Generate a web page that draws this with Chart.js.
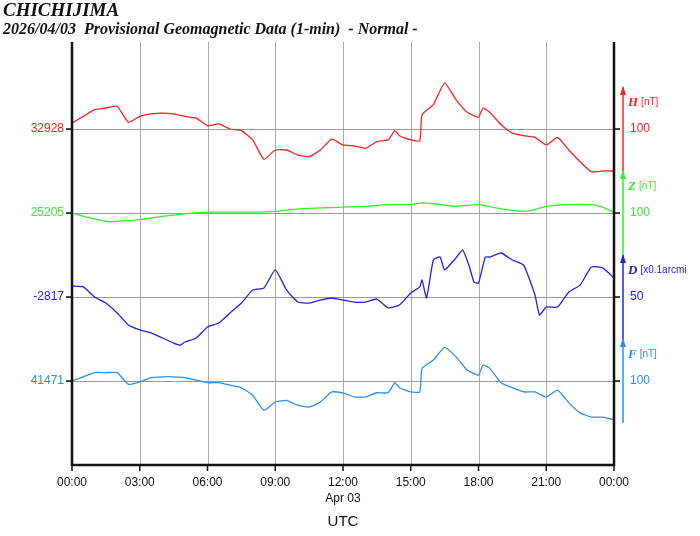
<!DOCTYPE html>
<html><head><meta charset="utf-8">
<script src="https://cdn.jsdelivr.net/npm/chart.js@4"></script>
<style>html,body{margin:0;padding:0;background:#fff}#c{display:block}</style>
</head><body>
<div style="width:700px;height:536px"><canvas id="c" width="700" height="536"></canvas></div>
<script>
// ---- data (deviations from baselines) ----
const hfTimes = [0,0.5,1,1.5,2,2.5,3,3.5,4,4.5,5,5.5,6,6.5,7,7.5,8,8.5,9,9.5,10,10.5,11,11.5,12,12.5,13,13.5,14,14.3,14.5,15,15.4,15.5,16,16.5,17,17.5,18,18.2,18.5,19,19.5,20,20.5,21,21.5,22,22.5,23,23.5,24];
const hValues = [7,15,23,25,27,8,15,18,19,18,15,13,4,6,0,-2,-13,-36,-25,-25,-31,-33,-25,-12,-19,-20,-23,-15,-13,-2,-8,-13,-14,17,29,55,35,20,14,25,20,5,-5,-8,-10,-19,-10,-25,-39,-51,-50,-50];
const fValues = [0,5,10,10,10,-4,-1,4,5,5,4,1,-2,-2,-5,-8,-17,-35,-25,-23,-29,-31,-25,-13,-14,-19,-19,-14,-14,-2,-8,-13,-13,15,25,40,29,13,7,19,15,-2,-8,-13,-13,-19,-11,-26,-38,-43,-43,-46];
const zTimes = [0,0.5,1,1.5,2,3,4,5,6,7,8,9,10,11,12,13,14,15,15.5,16,17,18,19,20,20.5,21,22,23,23.5,24];
const zValues = [0,-4,-7,-10,-10,-8,-4,-1,1,1,1,2,5,6,7,8,10,10,12,11,8,10,5,2,4,8,10,10,7,1];
const dTimes = [0,0.5,1,1.5,2,2.5,3,3.5,4,4.5,4.8,5,5.5,6,6.5,7,7.5,8,8.5,9,9.5,10,10.5,11,11.5,12,12.5,13,13.5,14,14.5,15,15.4,15.5,15.7,16,16.3,16.5,17,17.3,17.6,17.8,18,18.3,18.5,19,19.5,20,20.5,20.7,21,21.5,22,22.5,23,23.5,24];
const dValues = [6.5,6,0,-3.6,-9.5,-16.7,-19.6,-21.4,-24.4,-27.4,-28.6,-26.8,-24.4,-17.9,-15.5,-9.5,-3.6,4.2,5.4,16.1,4.2,-3,-3.6,-1.8,-0.6,-1.8,-3,-3,-1.2,-6.5,-4.8,2.4,6,10.1,-0.6,22,23.8,16.1,23.2,28,17.9,8.9,8.3,23.8,23.8,26.2,22,19,1.2,-10.7,-6,-6,3,7.1,17.9,17.3,11.3];
const baselineLabels = ["32928","25205","-2817","41471"];
const compNames = ["H","Z","D","F"];
const compUnits = ["[nT]","[nT]","[x0.1arcmi","[nT]"];
const scaleLabels = ["100","100","50","100"];
const compScales = [100,100,50,100];
const colors = ["#ff2020","#33ee33","#2222dd","#2a90f0"];
const xTickLabels = ["00:00","03:00","06:00","09:00","12:00","15:00","18:00","21:00","00:00"];
const dateLabel = "Apr 03";
const axisTitle = "UTC";
const title1 = "CHICHIJIMA";
const title2 = "2026/04/03  Provisional Geomagnetic Data (1-min)  - Normal -";

const bases = [336,252,168,84];
const unit = 84;
function mk(times, vals, i){ return times.map((t,k)=>({x:t, y:bases[i] + vals[k]*unit/compScales[i]})); }
const series = [mk(hfTimes,hValues,0), mk(zTimes,zValues,1), mk(dTimes,dValues,2), mk(hfTimes,fValues,3)];

const deco = {
  id:'deco',
  beforeDatasetsDraw(ch){
    const c=ch.ctx, xs=ch.scales.x, ys=ch.scales.y, a=ch.chartArea;
    c.save();
    c.strokeStyle='#aaa'; c.lineWidth=1;
    for(let i=1;i<8;i++){const x=Math.round(xs.getPixelForValue(i*3))+0.5;
      c.beginPath(); c.moveTo(x,a.top+2); c.lineTo(x,a.bottom); c.stroke();}
    c.strokeStyle='#999';
    bases.forEach(b=>{const y=Math.round(ys.getPixelForValue(b))+0.5;
      c.beginPath(); c.moveTo(a.left-6,y); c.lineTo(a.right+6,y); c.stroke();});
    c.restore();
  },
  afterDraw(ch){
    const c=ch.ctx, xs=ch.scales.x, ys=ch.scales.y, a=ch.chartArea;
    c.save();
    c.strokeStyle='#111'; c.lineWidth=2.5;
    c.beginPath(); c.moveTo(a.left,a.top+2); c.lineTo(a.left,a.bottom); c.lineTo(a.right,a.bottom); c.lineTo(a.right,a.top+2); c.stroke();
    c.lineWidth=1.5;
    bases.forEach(b=>{const y=ys.getPixelForValue(b);
      c.beginPath(); c.moveTo(a.left-6,y); c.lineTo(a.left,y); c.moveTo(a.right,y); c.lineTo(a.right+6,y); c.stroke();});
    c.fillStyle='#111'; c.font='12px "Liberation Sans", Arial'; c.textAlign='center'; c.textBaseline='middle';
    xTickLabels.forEach((l,i)=>{const x=xs.getPixelForValue(i*3);
      c.beginPath(); c.moveTo(x,a.bottom); c.lineTo(x,a.bottom+6); c.stroke();
      c.fillText(l,x,a.bottom+18);});
    c.fillText(dateLabel, xs.getPixelForValue(12), a.bottom+34);
    c.font='15px "Liberation Sans", Arial'; c.fillText(axisTitle, xs.getPixelForValue(12), a.bottom+57);
    c.font='12px "Liberation Sans", Arial'; c.textAlign='right';
    bases.forEach((b,i)=>{c.fillStyle=colors[i]; c.fillText(baselineLabels[i], a.left-8, ys.getPixelForValue(b));});
    const ax=a.right+9;
    bases.forEach((b,i)=>{
      const yt=ys.getPixelForValue(b+unit/2), yb=ys.getPixelForValue(b-unit/2), yc=ys.getPixelForValue(b);
      c.strokeStyle=colors[i]; c.fillStyle=colors[i]; c.lineWidth=1.5;
      c.beginPath(); c.moveTo(ax,yb); c.lineTo(ax,yt); c.stroke();
      c.beginPath(); c.moveTo(ax,yt-1); c.lineTo(ax-3,yt+8); c.lineTo(ax+3,yt+8); c.closePath(); c.fill();
      c.textAlign='left';
      c.font='bold italic 13px "Liberation Serif", serif';
      c.fillText(compNames[i], ax+5, yc-26);
      const w=c.measureText(compNames[i]).width;
      c.font='10px "Liberation Sans", Arial';
      c.fillText(compUnits[i], ax+8+w, yc-27);
      c.font='12px "Liberation Sans", Arial';
      c.fillText(scaleLabels[i], ax+7, yc);
    });
    c.fillStyle='#111'; c.textAlign='left'; c.textBaseline='alphabetic';
    c.font='bold italic 19px "Liberation Serif", serif'; c.fillText(title1, 3, 16);
    c.font='bold italic 16px "Liberation Serif", serif'; c.fillText(title2, 3, 34);
    c.restore();
  }
};

new Chart(document.getElementById('c'), {
  type:'line',
  data:{datasets: series.map((d,i)=>({data:d, borderColor:colors[i], borderWidth:1.3, pointRadius:0, tension:0.15, fill:false}))},
  options:{
    responsive:false, animation:false, events:[],
    layout:{padding:{left:72,right:86,top:40,bottom:71}},
    plugins:{legend:{display:false}, tooltip:{enabled:false}},
    scales:{
      x:{type:'linear', display:false, min:0, max:24},
      y:{display:false, min:0, max:425}
    }
  },
  plugins:[deco]
});
</script>
</body></html>
